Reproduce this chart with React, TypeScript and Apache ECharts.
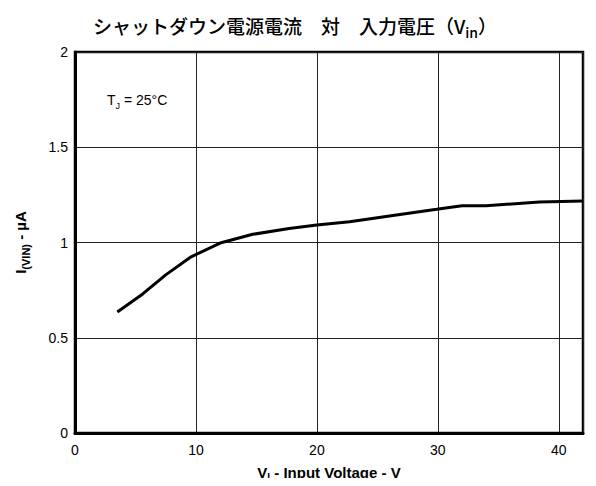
import React, { useEffect, useRef } from "react";
import * as echarts from "echarts";

// Input voltage (V) and shutdown supply current (µA) at TJ = 25°C
const inputVoltage = [3.5, 5.6, 7.5, 9.6, 12, 14.7, 17.7, 20, 22.7, 26, 29.9, 32, 34, 38.4, 42];
const supplyCurrent = [0.635, 0.73, 0.83, 0.925, 0.997, 1.043, 1.074, 1.092, 1.109, 1.139, 1.174, 1.193, 1.193, 1.213, 1.218];

const xTicks = [0, 10, 20, 30, 40];

const FONT = "'Liberation Sans', Arial, Helvetica, sans-serif";
const CJK = "'Noto Sans CJK JP', 'Noto Sans CJK SC', sans-serif";

// rich-text subscript style: sits at the bottom of a taller line box
const sub = (size: number, weight: string) => ({
  fontFamily: FONT,
  fontSize: size,
  fontWeight: weight,
  lineHeight: size,
  verticalAlign: "bottom",
  color: "#000",
  fill: "#000",
});

export default function App() {
  const ref = useRef<HTMLDivElement>(null);

  useEffect(() => {
    if (!ref.current) return;
    const chart = echarts.init(ref.current, undefined, { renderer: "svg" });
    const points = inputVoltage.map((v, i) => [v, supplyCurrent[i]]);

    chart.setOption({
      animation: false,
      backgroundColor: "#fff",
      title: {
        text: "シャットダウン電源電流　対　入力電圧（V{sub|in}）",
        left: 290,
        textAlign: "center",
        top: 6,
        textStyle: {
          fontFamily: CJK,
          fontSize: 19,
          fontWeight: 500,
          lineHeight: 28,
          color: "#000",
          rich: { sub: { ...sub(14, "500"), fontFamily: CJK } },
        },
      },
      grid: {
        left: 75,
        right: 13,
        top: 52,
        bottom: 53,
        show: true,
        borderColor: "#000",
        borderWidth: 2.5,
        containLabel: false,
        outerBoundsMode: "none",
      },
      xAxis: {
        type: "value",
        min: 0,
        max: 42,
        interval: 10,
        axisLine: { show: true, lineStyle: { color: "#000", width: 3 } },
        axisTick: { show: false },
        axisLabel: {
          fontFamily: FONT,
          fontSize: 14,
          color: "#000",
          margin: 10,
          formatter: (v: number) => (xTicks.includes(v) ? String(v) : ""),
        },
        splitLine: { show: true, lineStyle: { color: "#222", width: 1 } },
      },
      yAxis: {
        type: "value",
        min: 0,
        max: 2,
        interval: 0.5,
        name: "I{sub|(VIN)} - µA",
        nameLocation: "middle",
        nameGap: 44,
        nameRotate: 90,
        nameTextStyle: {
          fontFamily: FONT,
          fontSize: 15,
          fontWeight: "bold",
          lineHeight: 22,
          color: "#000",
          rich: { sub: sub(11, "bold") },
        },
        axisLine: { show: true, lineStyle: { color: "#000", width: 3 } },
        axisTick: { show: false },
        axisLabel: {
          fontFamily: FONT,
          fontSize: 14,
          color: "#000",
          margin: 7,
        },
        splitLine: { show: true, lineStyle: { color: "#222", width: 1 } },
      },
      graphic: [
        {
          // x-axis title with subscript
          type: "text",
          x: 329,
          y: 472,
          style: {
            text: "V{sub|I} - Input Voltage - V",
            align: "center",
            verticalAlign: "middle",
            fontFamily: FONT,
            fontSize: 15,
            fontWeight: "bold",
            lineHeight: 20,
            fill: "#000",
            rich: { sub: sub(10, "bold") },
          },
        },
        {
          type: "text",
          left: 107,
          top: 90,
          style: {
            text: "T{sub|J} = 25°C",
            fontFamily: FONT,
            fontSize: 14,
            lineHeight: 20,
            fill: "#000",
            rich: { sub: sub(9, "normal") },
          },
        },
      ],
      series: [
        {
          type: "line",
          data: points,
          showSymbol: false,
          smooth: false,
          lineStyle: { color: "#000", width: 3 },
          clip: false,
        },
      ],
    });

    return () => chart.dispose();
  }, []);

  return <div ref={ref} style={{ width: 596, height: 486, margin: -8 }} />;
}
